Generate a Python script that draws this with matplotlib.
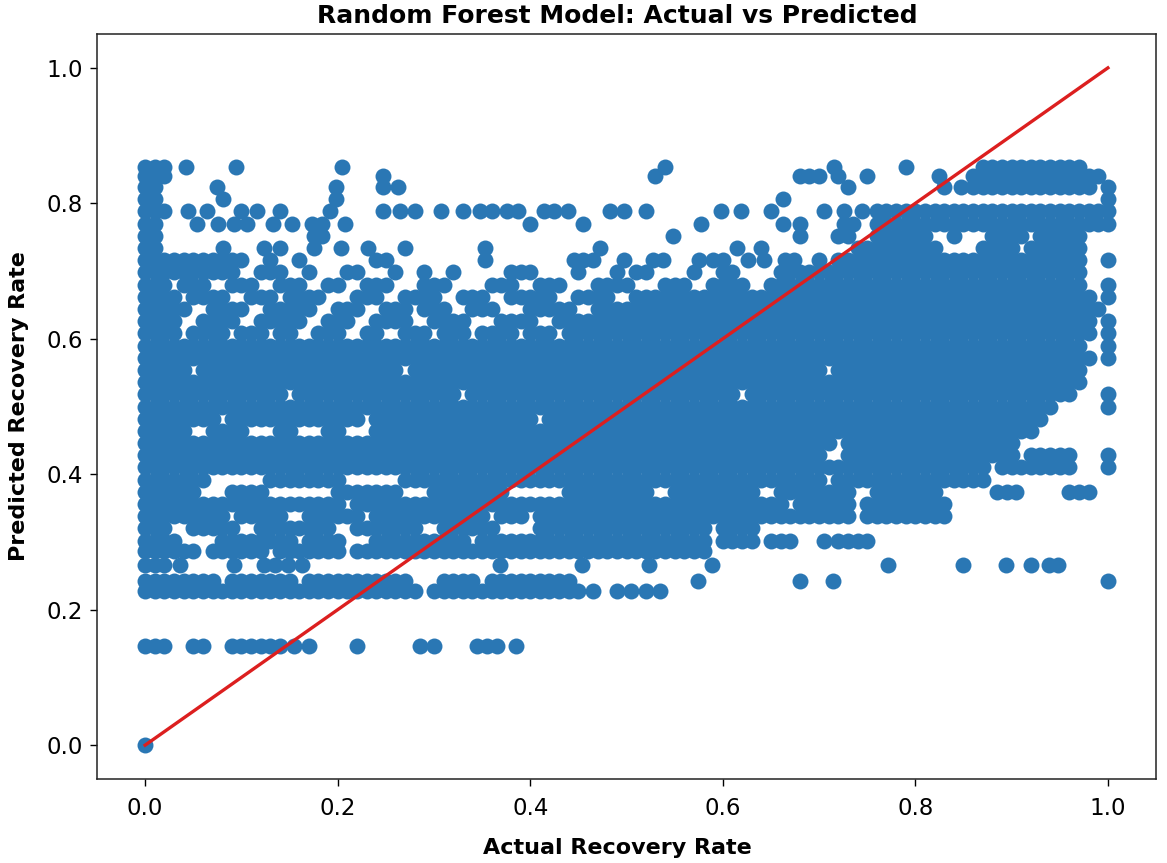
import matplotlib.pyplot as plt

plt.rcParams['font.family'] = ['DejaVu Sans']

# Predicted recovery rate levels (the forest predictions come in bands)
pred_levels = [0.0, 0.146, 0.228, 0.242, 0.266, 0.286, 0.302, 0.320, 0.338,
               0.356, 0.374, 0.392, 0.410, 0.428, 0.446, 0.464, 0.482, 0.500,
               0.518, 0.536, 0.554, 0.572, 0.590, 0.608, 0.626, 0.644, 0.662,
               0.680, 0.698, 0.716, 0.734, 0.752, 0.770, 0.788, 0.806, 0.824,
               0.840, 0.854]

# Actual recovery rate (in %) of the points sitting on each predicted level
act_000 = [0]
act_146 = [0, 1, 2, 5, 6, 9, 10, 11, 12, 13, 14, 15.5, 17, 22, 28.5, 30,
           34.5, 35.5, 36.5, 38.5]
act_228 = [0, 1, 2, 3, 4, 5, 6, 7, 8, 9, 10, 11, 12, 13, 14, 15, 16, 17, 18,
           19, 20, 21, 22, 23, 24, 25, 26, 27, 28, 30, 31, 32, 33, 34, 35, 36,
           37, 38, 39, 40, 41, 42, 43, 44, 45, 46.5, 49, 50.5, 52, 53.5]
act_242 = [0, 1, 2, 3, 4, 5, 6, 7, 9, 10, 11, 12, 13, 14, 15, 17, 18, 19, 20,
           21, 22, 23, 24, 25, 26, 27, 31, 32, 33, 34, 36, 37, 38, 39, 40, 41,
           42, 43, 44, 57.4, 68, 71.4, 100]
act_266 = [0, 1, 2, 3.6, 9.2, 12.3, 13.5, 14.8, 16.3, 36.9, 45.4, 52.3, 58.9,
           77.2, 84.9, 89.4, 92, 93.9, 94.8]
act_286 = [0, 1, 2, 3, 4, 5, 7, 8, 9, 10, 11, 12, 14, 15, 16, 17, 18, 19, 20,
           22, 23, 24, 25, 26, 27, 28, 29, 30, 31, 32, 33, 34, 35, 36, 37, 38,
           39, 40, 41, 42, 43, 44, 45, 46, 47, 48, 49, 50, 51, 52, 53, 54, 55,
           56, 57, 58]
act_302 = [0, 1, 2, 3, 8, 9, 10, 11, 12, 13, 14, 15, 17, 18, 19, 20, 24, 25,
           26, 27, 28, 29, 30, 31, 32, 33, 35, 36, 37, 38, 39, 40, 41, 42, 43,
           44, 45, 46, 47, 48, 49, 50, 51, 52, 53, 54, 55, 56, 57, 58, 60, 61,
           62, 63, 65, 66, 67, 70.5, 72, 73, 74, 75]
act_320 = [0, 1, 2, 5, 6, 7, 8, 9, 12, 13, 14, 15, 16, 17, 18, 19, 22, 23, 24,
           25, 26, 27, 28, 31, 32, 33, 34, 35, 36, 41, 42, 43, 44, 45, 46, 47,
           48, 49, 50, 51, 52, 53, 54, 55, 56, 57, 58, 60, 61, 62, 63]
act_338 = [0, 1, 2, 3, 4, 5, 6, 7, 8, 10, 11, 12, 13, 14, 17, 18, 19, 20, 21,
           22, 24, 25, 26, 27, 28, 29, 30, 31, 32, 33, 34, 35, 37, 38, 39, 41,
           42, 43, 44, 45, 46, 47, 48, 49, 50, 51, 52, 53, 54, 55, 56, 57, 58,
           59, 60, 61, 62, 63, 64, 65, 66, 67, 68, 69, 70, 71, 72, 73, 75, 76,
           77, 78, 79, 80, 81, 82, 83]
act_356 = [0, 1, 2, 3, 4, 5, 6, 7, 8, 9, 10, 11, 12, 13, 14, 15, 16, 17, 18,
           19, 20, 22, 23, 24, 25, 26, 27, 28, 29, 30, 31, 32, 33, 34, 35, 36,
           37, 38, 39, 40, 41, 42, 43, 44, 45, 46, 47, 48, 49, 50, 51, 52, 53,
           54, 55, 56, 57, 58, 59, 60, 61, 62, 63, 64, 65, 66, 68, 69, 70, 71,
           72, 73, 75, 76, 77, 78, 79, 80, 81, 82, 83]
act_374 = [0, 1, 2, 3, 4, 5, 9, 10, 11, 12, 20, 21, 22, 23, 24, 25, 26, 30,
           31, 32, 33, 34, 35, 36, 37, 44, 45, 46, 47, 48, 49, 50, 51, 52, 55,
           56, 57, 58, 59, 60, 61, 62, 63, 66, 67, 68, 69, 70, 71, 72, 73, 76,
           77, 78, 79, 80, 81, 82, 88.5, 89.5, 90.5, 96, 97, 98]
act_392 = [0, 1, 2, 3, 4, 5, 6, 13, 14, 15, 16, 17, 18, 19, 20, 27, 28, 29,
           30, 31, 32, 33, 34, 35, 36, 37, 38, 39, 40, 41, 42, 43, 44, 45, 46,
           47, 48, 49, 50, 51, 52, 53, 54, 55, 56, 57, 58, 59, 60, 61, 62, 63,
           64, 65, 66, 67, 68, 69, 70, 72, 73, 74, 75, 76, 77, 78, 79, 80, 81,
           82, 83, 84, 85, 86, 87]
act_410 = [0, 1, 2, 3, 4, 5, 6, 7, 8, 9, 10, 11, 12, 13, 14, 15, 16, 17, 18,
           19, 20, 21, 22, 23, 24, 25, 26, 27, 28, 29, 30, 31, 32, 33, 34, 35,
           36, 37, 38, 39, 40, 41, 42, 43, 44, 45, 46, 47, 48, 49, 50, 51, 52,
           53, 54, 55, 56, 57, 58, 59, 60, 61, 62, 63, 64, 65, 66, 67, 68, 69,
           70, 71, 72, 73, 74, 75, 76, 77, 78, 79, 80, 81, 82, 83, 84, 85, 86,
           87, 89, 90, 91, 92, 93, 94, 95, 96, 100]
act_428 = [0, 1, 2, 3, 4, 5, 6, 7, 8, 9, 10, 11, 12, 13, 14, 15, 16, 17, 18,
           19, 20, 21, 22, 23, 24, 25, 26, 27, 28, 29, 30, 31, 32, 33, 34, 35,
           36, 37, 38, 39, 40, 41, 42, 43, 44, 45, 46, 47, 48, 49, 50, 51, 52,
           53, 54, 55, 56, 57, 58, 59, 60, 61, 62, 63, 64, 65, 66, 67, 68, 69,
           70, 73, 74, 75, 76, 77, 78, 79, 80, 81, 82, 83, 84, 85, 86, 87, 88,
           89, 90, 92, 93, 94, 95, 96, 100]
act_446 = [0, 1, 2, 3, 4, 5, 6, 7, 8, 9, 10, 11, 12, 13, 14, 15, 16, 17, 18,
           19, 20, 21, 22, 23, 24, 25, 26, 27, 28, 29, 30, 31, 32, 33, 34, 35,
           36, 37, 38, 39, 40, 41, 42, 43, 44, 45, 46, 47, 48, 49, 50, 51, 52,
           53, 54, 55, 56, 57, 58, 59, 60, 61, 62, 63, 64, 65, 66, 67, 68, 69,
           70, 71, 73, 74, 75, 76, 77, 78, 79, 80, 81, 82, 83, 84, 85, 86, 87,
           88, 89, 90]
act_464 = [0, 1, 2, 3, 4, 7, 8, 9, 10, 14, 15, 19, 20, 24, 25, 26, 27, 28, 29,
           30, 31, 32, 33, 34, 35, 36, 37, 38, 39, 40, 41, 42, 43, 44, 45, 46,
           47, 48, 49, 50, 51, 52, 53, 54, 55, 56, 57, 58, 59, 60, 61, 62, 63,
           64, 65, 66, 67, 68, 69, 70, 71, 72, 73, 74, 75, 76, 77, 78, 79, 80,
           81, 82, 83, 84, 85, 86, 87, 88, 89, 90, 91, 92]
act_482 = [0, 1, 2, 3, 4, 5, 6, 7, 9, 10, 11, 12, 13, 14, 15, 16, 17, 18, 19,
           20, 21, 22, 24, 25, 26, 27, 28, 29, 30, 31, 32, 33, 34, 35, 36, 37,
           38, 39, 40, 42, 43, 44, 45, 46, 47, 48, 49, 50, 51, 52, 53, 54, 55,
           56, 57, 58, 59, 60, 61, 62, 63, 64, 65, 66, 67, 68, 69, 70, 71, 72,
           73, 74, 75, 76, 77, 78, 79, 80, 81, 82, 83, 84, 85, 86, 87, 88, 89,
           90, 91, 92, 93]
act_500 = [0, 1, 2, 3, 4, 5, 6, 7, 8, 9, 10, 11, 12, 13, 14, 15, 16, 17, 18,
           19, 20, 21, 22, 23, 24, 25, 26, 27, 28, 29, 30, 31, 32, 33, 34, 35,
           36, 37, 38, 39, 40, 41, 42, 43, 44, 45, 46, 47, 48, 49, 50, 51, 52,
           53, 54, 55, 56, 57, 58, 59, 60, 61, 62, 63, 64, 65, 66, 67, 68, 69,
           70, 71, 72, 73, 74, 75, 76, 77, 78, 79, 80, 81, 82, 83, 84, 85, 86,
           87, 88, 89, 90, 91, 92, 93, 94, 100]
act_518 = [0, 1, 2, 3, 4, 5, 6, 7, 8, 9, 10, 11, 12, 13, 14, 16, 17, 18, 19,
           20, 21, 22, 23, 24, 25, 26, 27, 28, 29, 30, 31, 32, 34, 35, 36, 37,
           38, 39, 40, 41, 42, 43, 44, 45, 46, 47, 48, 49, 50, 51, 52, 53, 54,
           55, 56, 57, 58, 59, 60, 61, 63, 64, 65, 66, 67, 68, 69, 70, 71, 72,
           73, 74, 75, 76, 77, 78, 79, 80, 81, 82, 83, 84, 85, 86, 87, 88, 89,
           90, 91, 92, 93, 94, 95, 96, 100]
act_536 = [0, 1, 2, 3, 4, 5, 6, 7, 8, 9, 10, 11, 12, 13, 14, 15, 16, 17, 18,
           19, 20, 21, 22, 23, 24, 25, 26, 27, 28, 29, 30, 31, 32, 33, 34, 35,
           36, 37, 38, 39, 40, 41, 42, 43, 44, 45, 46, 47, 48, 49, 50, 51, 52,
           53, 54, 55, 56, 57, 58, 59, 60, 61, 62, 63, 64, 65, 66, 67, 68, 69,
           70, 71, 72, 73, 74, 75, 76, 77, 78, 79, 80, 81, 82, 83, 84, 85, 86,
           87, 88, 89, 90, 91, 92, 93, 94, 95, 96, 97]
act_554 = [0, 1, 2, 3, 4, 6, 7, 8, 9, 10, 11, 12, 13, 14, 15, 16, 17, 18, 19,
           20, 21, 22, 23, 24, 25, 26, 28, 29, 30, 31, 32, 33, 34, 35, 36, 37,
           38, 39, 40, 41, 42, 43, 44, 45, 46, 47, 48, 49, 50, 51, 52, 53, 54,
           55, 56, 57, 58, 59, 60, 61, 62, 63, 64, 65, 66, 67, 68, 69, 70, 72,
           73, 74, 75, 76, 77, 78, 79, 80, 81, 82, 83, 84, 85, 86, 87, 88, 89,
           90, 91, 92, 93, 94, 95, 96, 97]
act_572 = [0, 1, 2, 3, 4, 5, 6, 7, 8, 9, 10, 11, 12, 13, 14, 15, 16, 17, 18,
           19, 20, 21, 22, 23, 24, 25, 26, 27, 28, 29, 30, 31, 32, 33, 34, 35,
           36, 37, 38, 39, 40, 41, 42, 43, 44, 45, 46, 47, 48, 49, 50, 51, 52,
           53, 54, 55, 56, 57, 58, 59, 60, 61, 62, 63, 64, 65, 66, 67, 68, 69,
           70, 71, 72, 73, 74, 75, 76, 77, 78, 79, 80, 81, 82, 83, 84, 85, 86,
           87, 88, 89, 90, 91, 92, 93, 94, 95, 96, 97, 98, 100]
act_590 = [0, 1, 2, 3, 4, 5, 6, 7, 8, 9, 10, 11, 12, 13, 14, 15, 16, 17, 18,
           19, 20, 21, 22, 23, 24, 25, 26, 27, 28, 29, 30, 31, 32, 33, 34, 35,
           36, 37, 38, 39, 40, 41, 42, 43, 44, 45, 46, 47, 48, 49, 50, 51, 52,
           53, 54, 55, 56, 57, 58, 59, 60, 61, 62, 63, 64, 65, 66, 67, 68, 69,
           70, 71, 72, 73, 74, 75, 76, 77, 78, 79, 80, 81, 82, 83, 84, 85, 86,
           87, 88, 89, 90, 91, 92, 93, 94, 95, 96, 97, 100]
act_608 = [0, 1, 2, 3, 5, 6, 7, 8, 10, 11, 12, 14, 15, 18, 19, 20, 23, 24, 27,
           28, 29, 31, 32, 33, 35, 36, 37, 38, 40, 41, 42, 44, 45, 46, 47, 48,
           49, 50, 51, 52, 53, 54, 55, 56, 57, 58, 59, 60, 61, 62, 63, 64, 65,
           66, 67, 68, 69, 70, 71, 72, 73, 74, 75, 76, 77, 78, 79, 80, 81, 82,
           83, 84, 85, 86, 87, 88, 89, 90, 91, 92, 93, 94, 95, 96, 97, 98, 100]
act_626 = [0, 1, 2, 3, 6, 7, 8, 9, 12, 13, 14, 15, 16, 19, 20, 21, 24, 25, 26,
           27, 30, 31, 32, 33, 37, 38, 39, 40, 43, 44, 45, 46, 47, 48, 49, 50,
           51, 52, 53, 54, 55, 56, 57, 58, 59, 60, 61, 62, 63, 64, 65, 66, 67,
           68, 69, 70, 71, 72, 73, 74, 75, 76, 77, 78, 79, 80, 81, 82, 83, 84,
           85, 86, 87, 88, 89, 90, 91, 92, 93, 94, 95, 96, 97, 98, 100]
act_644 = [0, 1, 2, 3, 4, 7, 8, 9, 10, 13, 14, 15, 16, 17, 20, 21, 22, 25, 26,
           27, 29, 30, 31, 34, 35, 36, 40, 41, 42, 43, 44, 47, 48, 49, 50, 51,
           52, 53, 54, 55, 56, 57, 58, 59, 60, 61, 62, 63, 64, 65, 66, 67, 68,
           69, 70, 71, 72, 73, 74, 75, 76, 77, 78, 79, 80, 81, 82, 83, 84, 85,
           86, 87, 88, 89, 90, 91, 92, 93, 94, 95, 96, 97, 98, 99]
act_662 = [0, 1, 2, 3, 5, 6, 7, 8, 11, 12, 13, 15, 16, 17, 18, 22, 23, 24, 27,
           28, 29, 30, 33, 34, 35, 38, 39, 40, 41, 42, 45, 46, 47, 48, 51, 52,
           53, 54, 55, 56, 57, 58, 59, 60, 61, 62, 63, 64, 65, 66, 67, 68, 69,
           70, 71, 72, 73, 74, 75, 76, 77, 78, 79, 80, 81, 82, 83, 84, 85, 86,
           87, 88, 89, 90, 91, 92, 93, 94, 95, 96, 97, 98, 100]
act_680 = [0, 1, 2, 4, 5, 6, 9, 10, 11, 14, 15, 16, 19, 20, 23, 24, 25, 29, 30,
           31, 36, 37, 38, 41, 42, 43, 47, 48, 49, 50, 54, 55, 56, 59, 60, 61,
           62, 65, 66, 67, 68, 69, 70, 71, 72, 73, 74, 75, 76, 77, 78, 79, 80,
           81, 82, 83, 84, 85, 86, 87, 88, 89, 90, 91, 92, 93, 94, 95, 96, 97,
           100]
act_698 = [0, 1, 2, 3, 4, 5, 6, 7, 8, 9, 12, 13, 14, 17, 21, 22, 26, 29, 32,
           38, 39, 40, 45, 49, 51, 52, 57, 60, 61, 66, 67, 68, 69, 70, 71, 72,
           73, 74, 75, 76, 77, 78, 79, 80, 81, 82, 83, 84, 85, 86, 87, 88, 89,
           90, 91, 92, 93, 94, 95, 96, 97]
act_716 = [0, 1, 2, 3, 4, 5, 6, 7, 8, 9, 10, 13, 16, 24, 25, 35.3, 44.5, 45.5,
           46.5, 49.7, 52.8, 53.8, 57.5, 59, 60, 62.6, 64.3, 66.5, 67.4, 70,
           72, 73, 74, 75, 76, 77, 78, 79, 80, 81, 82, 83, 84, 85, 86, 87, 88,
           89, 90, 91, 92, 93, 94, 95, 96, 97, 100]
act_734 = [0, 1, 8.1, 12.3, 14, 17.5, 20.3, 23.2, 27, 35.3, 47.2, 61.5, 64, 74,
           75, 76, 77, 78, 79, 80, 81, 82, 87, 88, 89, 90, 92, 93, 94, 95, 96,
           97]
act_752 = [0, 1, 17.5, 18.4, 54.8, 68, 72, 73, 76, 77, 78, 79, 80, 81, 84, 88,
           89, 90, 91, 93, 94, 95, 96, 97]
act_770 = [0, 1, 5.4, 7.6, 9.2, 10.6, 13.3, 15.3, 17.3, 18.4, 20.8, 40, 45.5,
           57.7, 66.3, 68, 72.6, 73.5, 76, 77, 78, 79, 80, 81, 82, 83, 84, 85,
           86, 87, 88, 89, 90, 91, 92, 93, 94, 95, 96, 97, 98, 99, 100]
act_788 = [0, 1, 2, 4.5, 6.4, 10, 11.6, 14, 19.2, 24.7, 26.5, 28, 30.7, 33,
           34.8, 36, 37.6, 38.7, 41.4, 42.5, 43.9, 48.3, 49.7, 52, 59.8, 61.9,
           65, 70.5, 72.6, 74.5, 76, 77, 78, 79, 80, 81, 82, 83, 84, 85, 86,
           87, 88, 89, 90, 91, 92, 93, 94, 95, 96, 97, 98, 99, 100]
act_806 = [0, 1, 8.1, 19.8, 66.3, 100]
act_824 = [0, 1, 7.5, 19.8, 24.7, 26.3, 73, 83, 84.7, 86, 87, 88, 89, 90, 91,
           92, 93, 94, 95, 96, 97, 98, 100]
act_840 = [0, 1, 2, 24.7, 53, 68, 69, 70, 72, 75, 82.5, 86, 87, 88, 89, 90,
           91, 92, 93, 94, 95, 96, 97, 98, 99]
act_854 = [0, 1, 2, 4.2, 9.4, 20.5, 54, 71.5, 79, 87, 88, 89, 90, 91, 92, 93,
           94, 95, 96, 97]

actual_rows = [act_000, act_146, act_228, act_242, act_266, act_286, act_302,
               act_320, act_338, act_356, act_374, act_392, act_410, act_428,
               act_446, act_464, act_482, act_500, act_518, act_536, act_554,
               act_572, act_590, act_608, act_626, act_644, act_662, act_680,
               act_698, act_716, act_734, act_752, act_770, act_788, act_806,
               act_824, act_840, act_854]

# flatten into the two series of the scatter
actual = []
predicted = []
for level, row in zip(pred_levels, actual_rows):
    actual += [v / 100 for v in row]
    predicted += [level] * len(row)

fig = plt.figure(figsize=(11.67, 8.63), dpi=100)
ax = fig.add_axes([0.0831, 0.0973, 0.9075, 0.8633])

ax.scatter(actual, predicted, s=132, color='#2a77b4', linewidths=0)
# perfect prediction line
lo, hi = min(actual), max(actual)
ax.plot([lo, hi], [lo, hi], color='#dc1f1f', lw=2.4)

ax.set_title('Random Forest Model: Actual vs Predicted', fontsize=18,
             fontweight='bold', pad=8, x=0.491)
ax.set_xlabel('Actual Recovery Rate', fontsize=16, fontweight='bold',
              labelpad=13, x=0.491)
ax.set_ylabel('Predicted Recovery Rate', fontsize=16, fontweight='bold',
              labelpad=12.5)
ax.tick_params(axis='both', labelsize=16.5, length=5, width=1)
ax.tick_params(axis='x', pad=8)
ax.tick_params(axis='y', pad=5)
for spine in ax.spines.values():
    spine.set_linewidth(1.1)
    spine.set_color('#222222')

fig.savefig('out.png', dpi=100)
